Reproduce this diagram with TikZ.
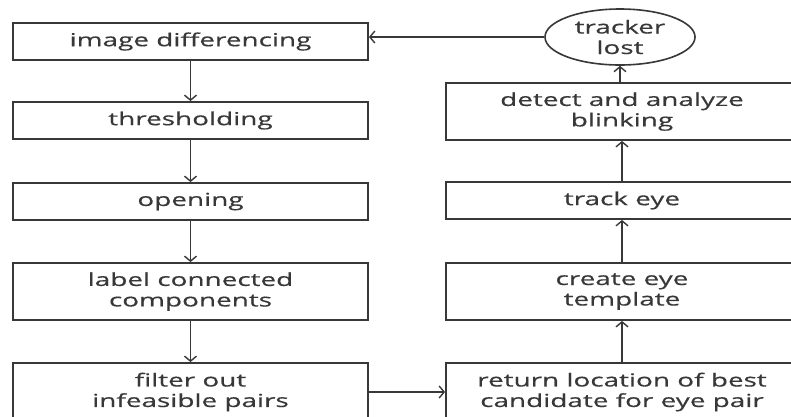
\documentclass[tikz,border=0pt]{standalone}
\usepackage{fontspec}
\setmainfont{Open Sans}[FakeStretch=1.55,FakeBold=0.4]
\usetikzlibrary{arrows.meta,shapes.geometric}
\definecolor{ink}{HTML}{383838}
\begin{document}
\begin{tikzpicture}[x=1pt,y=-1pt,
  box/.style={draw=ink,line width=1.9pt,rectangle,inner sep=0pt,text=ink,
    font=\fontsize{18}{20.5}\selectfont,align=center},
  oval/.style={draw=ink,line width=1.6pt,ellipse,inner sep=0pt,text=ink,
    font=\fontsize{18}{20.5}\selectfont,align=center},
  arr/.style={draw=ink,line width=1.9pt,-{Straight Barb[length=5pt,width=12pt,line width=1.4pt]}}]
\path[use as bounding box,clip] (0,0) rectangle (791,416);
\fill[white] (0,0) rectangle (791,416);
% left column
\node[box,minimum width=355pt,minimum height=37pt] (img) at (190.5,41.5) {image differencing};
\node[box,minimum width=355pt,minimum height=37pt] (thr) at (190.5,120.5) {thresholding};
\node[box,minimum width=355pt,minimum height=37pt] (opn) at (190.5,201.5) {opening};
\node[box,minimum width=355pt,minimum height=57pt] (lab) at (190.5,291.5) {label connected\\components};
\node[box,minimum width=355pt,minimum height=58pt] (fil) at (190.5,392) {filter out\\infeasible pairs};
% right column
\node[box,minimum width=352pt,minimum height=58pt] (ret) at (622,392) {return location of best\\candidate for eye pair};
\node[box,minimum width=352pt,minimum height=57pt] (cre) at (622,291.5) {create eye\\template};
\node[box,minimum width=352pt,minimum height=37pt] (trk) at (622,200.5) {track eye};
\node[box,minimum width=352pt,minimum height=57pt] (det) at (622,111.5) {detect and analyze\\blinking};
\node[oval,minimum width=150pt,minimum height=56pt] (lost) at (620,37) {tracker\\lost};
% connectors
\draw[arr] (img) -- (thr);
\draw[arr] (thr) -- (opn);
\draw[arr] (opn) -- (lab);
\draw[arr] (lab) -- (fil);
\draw[arr] (fil) -- (ret);
\draw[arr] (ret) -- (cre);
\draw[arr] (cre) -- (trk);
\draw[arr] (trk) -- (det);
\draw[arr] (det.north -| lost.south) -- (lost.south);
\draw[arr] (lost.west) -- (img.east |- lost.west);
\end{tikzpicture}
\end{document}
